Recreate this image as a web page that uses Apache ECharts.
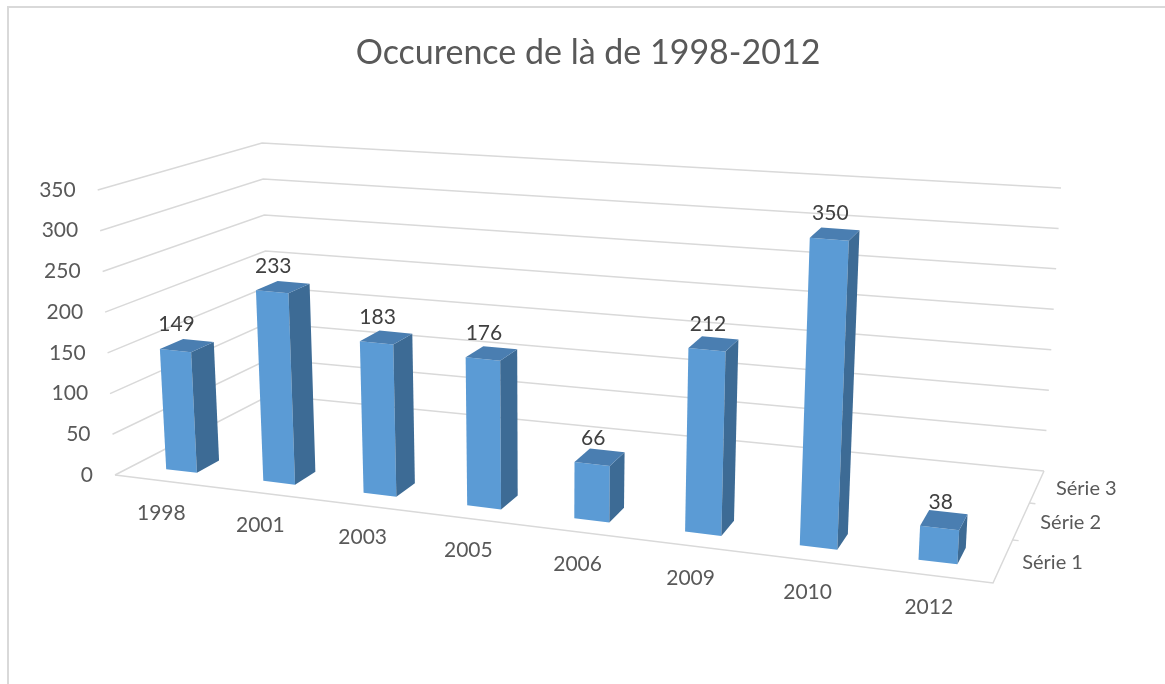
<!DOCTYPE html>
<html>
<head>
<meta charset="utf-8">
<title>Occurence de là de 1998-2012</title>
<script src="https://cdn.jsdelivr.net/npm/echarts@6/dist/echarts.min.js"></script>
<style>
  html, body { margin: 0; padding: 0; background: #fff; }
  #chart { width: 1165px; height: 684px; }
</style>
</head>
<body>
<div id="chart"></div>
<script>
const years = ['1998', '2001', '2003', '2005', '2006', '2009', '2010', '2012'];
const counts = [149, 233, 183, 176, 66, 212, 350, 38];
const yTicks = [0, 50, 100, 150, 200, 250, 300, 350];
const depthNames = ['Série 1', 'Série 2', 'Série 3'];

const FONT = 'Lato, "Open Sans", sans-serif';
const TEXT = '#595959';
const LINE = '#d9d9d9';
const FACE = { front: '#5b9bd5', side: '#3d6b95', top: '#4a7eb1' };

// the 3d box: floor corners (u along years, w into depth)
// and the vertical edge vectors for the full value range at each corner
const P00 = [115, 475], P10 = [993, 583], P01 = [270, 395], P11 = [1044, 471];
const V00 = [-17.3, -285], V10 = [18, -320], V01 = [-8, -252], V11 = [17, -283];
const KX = -0.126, KZ = 0.25;   // perspective along x and along depth
const W0 = 0.10, W1 = 0.23;     // bar depth, inside the 'Série 1' row

function proj(u, w, f) {
  const s = u * (1 + KX) / (1 + KX * u);
  const t = w * (1 + KZ) / (1 + KZ * w);
  const out = [];
  for (let k = 0; k < 2; k++) {
    const dl = P01[k] - P00[k], dr = P11[k] - P10[k];
    const floor = P00[k] + s * (P10[k] - P00[k]) + t * (dl + s * (dr - dl));
    const v = (1 - s) * (1 - t) * V00[k] + s * (1 - t) * V10[k] + (1 - s) * t * V01[k] + s * t * V11[k];
    out.push(floor + f * v);
  }
  return out;
}

// category index / value -> [u, f] in 0..1 through the hidden cartesian axes
function norm(params, api, x, y) {
  const p = api.coord([x, y]);
  const cs = params.coordSys;
  return [(p[0] - cs.x) / cs.width, (cs.y + cs.height - p[1]) / cs.height];
}

function label(x, y, text, align, size, color) {
  return {
    type: 'text', x: x, y: y,
    style: {
      text: text, fill: color || TEXT, font: (size || 21) + 'px ' + FONT,
      textAlign: align || 'center', textVerticalAlign: 'middle'
    }
  };
}

const chart = echarts.init(document.getElementById('chart'));

chart.setOption({
  animation: false,
  graphic: [
    { type: 'polyline', silent: true, shape: { points: [[8, 684], [8, 7], [1165, 7]] },
      style: { stroke: LINE, lineWidth: 2, fill: null } },
    { type: 'text', x: 588, y: 53, silent: true,
      style: { text: 'Occurence de là de 1998-2012', fill: TEXT, font: '34px ' + FONT,
        textAlign: 'center', textVerticalAlign: 'middle' } }
  ],
  grid: { left: 0, top: 0, width: 800, height: 350, show: false },
  xAxis: { type: 'category', data: years, show: false },
  yAxis: { type: 'value', min: 0, max: 350, interval: 50, show: false },
  series: [
    {
      // walls: value gridlines on the left and back wall, plus the value labels
      type: 'custom', silent: true,
      data: yTicks.map(v => [0, v]),
      renderItem(params, api) {
        const f = norm(params, api, 0, api.value(1))[1];
        const a = proj(0, 0, f);
        return {
          type: 'group',
          children: [
            { type: 'polyline', shape: { points: [a, proj(0, 1, f), proj(1, 1, f)] },
              style: { stroke: LINE, lineWidth: 1.5, fill: null } },
            label(a[0] - 22, a[1], String(api.value(1)), 'right')
          ]
        };
      }
    },
    {
      // floor edges, depth axis ticks and series names
      type: 'custom', silent: true,
      data: depthNames.map((n, k) => [0, 0, k]),
      renderItem(params, api) {
        const k = api.value(2);
        const n = depthNames.length;
        const children = [];
        if (k === 0) {
          children.push({ type: 'polyline',
            shape: { points: [proj(0, 0, 0), proj(1, 0, 0), proj(1, 1, 0)] },
            style: { stroke: LINE, lineWidth: 1.5, fill: null } });
        } else {
          const t = proj(1, k / n, 0);
          children.push({ type: 'line', shape: { x1: t[0], y1: t[1], x2: t[0] + 6, y2: t[1] + 0.7 },
            style: { stroke: LINE, lineWidth: 1.5 } });
        }
        const c = proj(1, (k + 0.5) / n, 0);
        children.push(label(c[0] + 19, c[1] + 2, depthNames[k], 'left', 20));
        return { type: 'group', children: children };
      }
    },
    {
      // year labels under the front edge
      type: 'custom', silent: true,
      data: years.map((y, i) => [i, 0]),
      renderItem(params, api) {
        const u = norm(params, api, api.value(0), 0)[0];
        const p = proj(u, 0, 0);
        return label(p[0] - 2, p[1] + 32, years[params.dataIndex]);
      }
    },
    {
      // 3d columns
      type: 'custom', silent: true,
      data: counts.map((v, i) => [i, v]),
      renderItem(params, api) {
        const [u, f] = norm(params, api, api.value(0), api.value(1));
        const half = api.size([1, 0])[0] / params.coordSys.width * 0.16;
        const u0 = u - half, u1 = u + half;
        const a = proj(u0, W0, 0), b = proj(u1, W0, 0), c = proj(u1, W0, f), d = proj(u0, W0, f);
        const e = proj(u1, W1, 0), g = proj(u1, W1, f), h = proj(u0, W1, f);
        return {
          type: 'group',
          children: [
            { type: 'polygon', shape: { points: [a, b, c, d] }, style: { fill: FACE.front } },
            { type: 'polygon', shape: { points: [b, e, g, c] }, style: { fill: FACE.side } },
            { type: 'polygon', shape: { points: [d, c, g, h] }, style: { fill: FACE.top } },
            label((c[0] + d[0]) / 2 + 1, (c[1] + d[1]) / 2 - 26, String(api.value(1)), 'center', 21, '#404040')
          ]
        };
      }
    }
  ]
});
</script>
</body>
</html>
